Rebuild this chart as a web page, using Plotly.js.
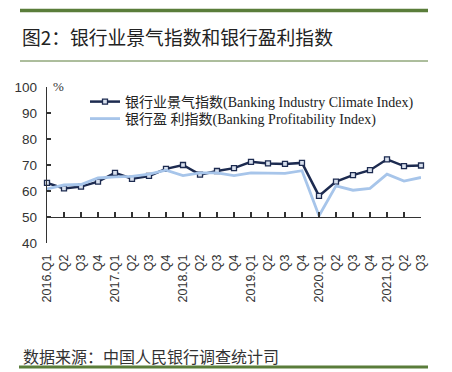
<!DOCTYPE html>
<html>
<head>
<meta charset="utf-8">
<script src="https://cdn.plot.ly/plotly-3.0.1.min.js"></script>
<style>
html,body{margin:0;padding:0;background:#fff;}
#chart{width:452px;height:372px;}
</style>
</head>
<body>
<div id="chart"></div>
<script>
var categories = ["2016.Q1","2016.Q2","2016.Q3","2016.Q4","2017.Q1","2017.Q2","2017.Q3","2017.Q4",
  "2018.Q1","2018.Q2","2018.Q3","2018.Q4","2019.Q1","2019.Q2","2019.Q3","2019.Q4",
  "2020.Q1","2020.Q2","2020.Q3","2020.Q4","2021.Q1","2021.Q2","2021.Q3"];
var tickLabels = ["2016.Q1","Q2","Q3","Q4","2017.Q1","Q2","Q3","Q4",
  "2018.Q1","Q2","Q3","Q4","2019.Q1","Q2","Q3","Q4",
  "2020.Q1","Q2","Q3","Q4","2021.Q1","Q2","Q3"];
var climateIndex = [63.1,61.0,61.7,63.6,67.0,64.7,65.8,68.5,
  70.0,66.3,67.7,68.8,71.2,70.6,70.4,70.8,
  58.1,63.6,66.1,68.0,72.2,69.6,69.8];
var profitIndex = [60.8,62.3,62.5,65.0,65.4,65.6,66.5,68.0,
  65.9,67.0,67.0,65.9,67.0,66.8,66.8,67.8,
  50.5,62.0,60.3,61.0,66.5,63.8,65.2];
var climateName = "银行业景气指数(Banking Industry Climate Index)";
var profitName = "银行盈 利指数(Banking Profitability Index)";
var titleText = "图2：银行业景气指数和银行盈利指数";
var sourceText = "数据来源：中国人民银行调查统计司";

var PL = 47, PR = 421, PT = 87, PB = 243;
function px(x){ return (x - PL) / (PR - PL); }
function py(y){ return (PB - y) / (PB - PT); }

var green = "#5a7d3a";
var navy = "#1d2b50";
var light = "#a7c5ea";
var cjkSans = "'Noto Sans CJK SC', 'Noto Sans', sans-serif";
var serifMix = "'Liberation Serif', 'Noto Sans CJK SC', serif";
var sans = "'Liberation Sans', Arial, sans-serif";

var traces = [
  {x: categories, y: climateIndex, name: climateName, type: "scatter", mode: "lines+markers",
   line: {color: navy, width: 2.5}, cliponaxis: false, legend: "legend",
   marker: {symbol: "square", size: 5, color: "#d9e1ee", line: {color: navy, width: 1.3}}},
  {x: categories, y: profitIndex, name: profitName, type: "scatter", mode: "lines",
   xaxis: "x2", line: {color: light, width: 2.8}, cliponaxis: false, legend: "legend2"}
];

var legFont = {family: serifMix, size: 14, color: "#222"};

var layout = {
  width: 452, height: 372,
  margin: {l: PL, r: 452 - PR, t: PT, b: 372 - PB, pad: 0},
  paper_bgcolor: "#fff", plot_bgcolor: "#fff",
  showlegend: true,
  title: {text: titleText, font: {family: cjkSans, size: 18.8, color: "#222"},
          x: 22/452, xanchor: "left", xref: "container", y: 1 - 38/372, yanchor: "middle", yref: "container"},
  xaxis: {type: "category", range: [0, 22], tickvals: categories, ticktext: tickLabels,
          tickangle: -90, showline: false, ticks: "", showgrid: false, zeroline: false,
          tickfont: {family: sans, size: 12.5, color: "#333"}, ticklabelstandoff: 8, fixedrange: true},
  xaxis2: {type: "category", range: [0, 22], overlaying: "x", anchor: "free", position: (50-40)/60,
           side: "bottom", showline: true, linecolor: "#333", linewidth: 1.2, ticks: "inside",
           ticklen: 5, tickwidth: 1.2, tickcolor: "#333", showticklabels: false, showgrid: false, zeroline: false},
  yaxis: {range: [40, 100], dtick: 10, tick0: 40, showline: true, linecolor: "#333", linewidth: 1.2,
          ticks: "inside", ticklen: 4, tickwidth: 1.2, tickcolor: "#333", showgrid: false, zeroline: false,
          tickfont: {family: sans, size: 13.5, color: "#333"}, ticklabelstandoff: 6},
  legend: {x: px(85), y: py(86), xanchor: "left", yanchor: "top", bgcolor: "rgba(0,0,0,0)",
           font: legFont, itemwidth: 30},
  legend2: {x: px(85), y: py(103), xanchor: "left", yanchor: "top", bgcolor: "rgba(0,0,0,0)",
           font: legFont, itemwidth: 30},
  shapes: [
    {type: "line", xref: "paper", yref: "paper", x0: px(20), x1: px(428), y0: py(10.5), y1: py(10.5),
     line: {color: green, width: 3.5}},
    {type: "line", xref: "paper", yref: "paper", x0: px(20), x1: px(428), y0: py(61), y1: py(61),
     line: {color: green, width: 1}},
    {type: "line", xref: "paper", yref: "paper", x0: px(19), x1: px(428), y0: py(367), y1: py(367),
     line: {color: green, width: 3}}
  ],
  annotations: [
    {text: "%", xref: "paper", yref: "paper", x: px(58), y: py(86), xanchor: "center", yanchor: "middle",
     showarrow: false, font: {family: serifMix, size: 13, color: "#333"}},
    {text: sourceText, xref: "paper", yref: "paper", x: px(21), y: py(356), xanchor: "left", yanchor: "middle",
     showarrow: false, font: {family: cjkSans, size: 16, color: "#333"}}
  ]
};

Plotly.newPlot("chart", traces, layout, {displayModeBar: false, staticPlot: true});
</script>
</body>
</html>
